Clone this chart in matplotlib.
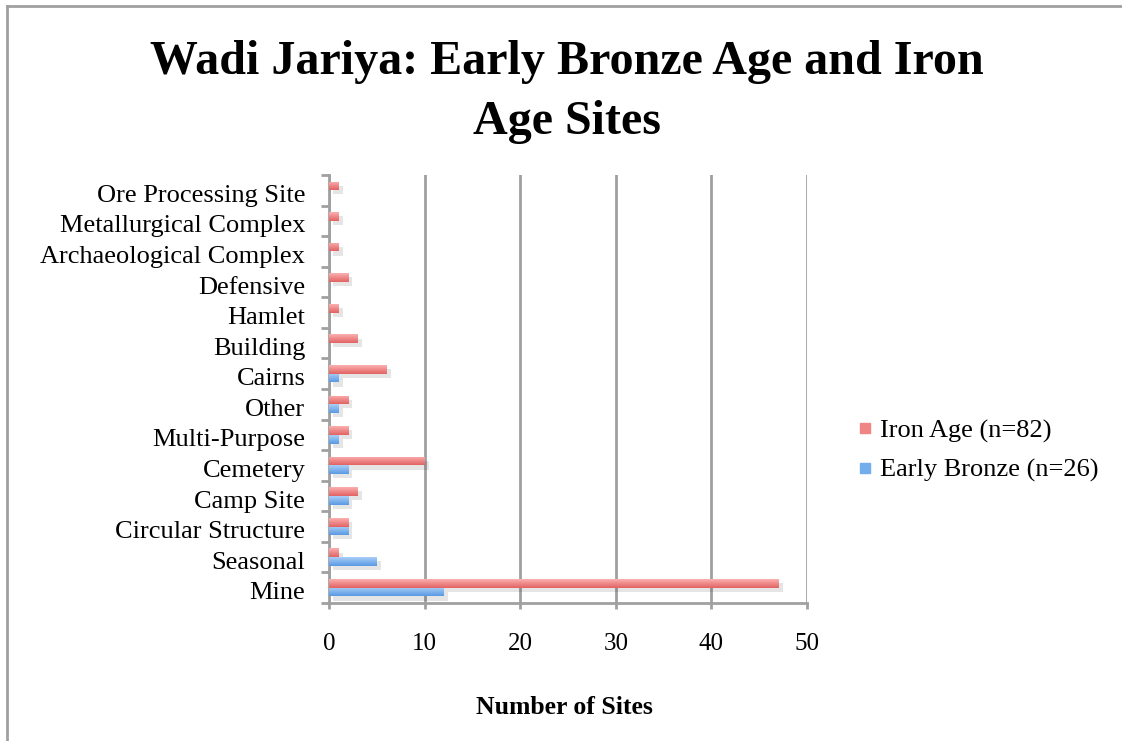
import numpy as np
import matplotlib.pyplot as plt
from matplotlib import patheffects as pe
from matplotlib import transforms
from matplotlib.colors import to_rgb
from matplotlib.lines import Line2D

categories = ['Mine', 'Seasonal', 'Circular Structure', 'Camp Site', 'Cemetery',
              'Multi-Purpose', 'Other', 'Cairns', 'Building', 'Hamlet',
              'Defensive', 'Archaeological Complex', 'Metallurgical Complex',
              'Ore Processing Site']
iron_age = [47, 1, 2, 3, 10, 2, 2, 6, 3, 1, 2, 1, 1, 1]
early_bronze = [12, 5, 2, 2, 2, 1, 1, 1, 0, 0, 0, 0, 0, 0]
x_ticks = [0, 10, 20, 30, 40, 50]

plt.rcParams['font.family'] = ['Liberation Serif', 'DejaVu Serif']

# top / bottom colours of the bar gradients
iron_cols = ('#fbb0b0', '#e26262')
bronze_cols = ('#a9cef7', '#5a99e4')


def gradient(c_top, c_bot, n=32):
    a, b = np.array(to_rgb(c_top)), np.array(to_rgb(c_bot))
    t = np.linspace(0, 1, n)[:, None]
    return (a * (1 - t) + b * t)[:, None, :]


fig = plt.figure(figsize=(11.22, 7.41), dpi=100)
ax = fig.add_axes([0.2932, 0.1862, 0.4261, 0.5776])

y = np.arange(len(categories))
h = 0.285
shadow = [pe.SimplePatchShadow(offset=(3, -3), shadow_rgbFace='#000000', alpha=0.10), pe.Normal()]
b1 = ax.barh(y + h / 2, iron_age, height=h, color=iron_cols[1], label='Iron Age (n=82)', zorder=3)
b2 = ax.barh(y - h / 2, early_bronze, height=h, color=bronze_cols[1], label='Early Bronze (n=26)', zorder=3)
for bars, cols in ((b1, iron_cols), (b2, bronze_cols)):
    for bar in bars:
        w = bar.get_width()
        if w <= 0:
            continue
        bar.set_path_effects(shadow)
        y0 = bar.get_y()
        im = ax.imshow(gradient(*cols), extent=(0, w, y0, y0 + bar.get_height()),
                       origin='upper', aspect='auto', interpolation='bilinear', zorder=4)
        im.set_clip_path(bar)

ax.set_xlim(0, 50)
ax.set_ylim(-0.5, len(categories) - 0.5)
ax.set_xticks(x_ticks)
ax.set_yticks(y)
ax.set_yticklabels(categories)
ax.set_yticks(np.arange(-0.5, len(categories)), minor=True)
ax.tick_params(axis='y', which='major', length=0, pad=17, labelsize=19)
ax.tick_params(axis='y', which='minor', length=6, width=2, color='#a0a0a0', direction='out')
ax.tick_params(axis='x', length=4.5, width=2, color='#a0a0a0', pad=17, labelsize=18)

# nudge category labels down a little
shift = transforms.ScaledTranslation(0, -3 / 100, fig.dpi_scale_trans)
for lab in ax.get_yticklabels():
    lab.set_transform(lab.get_transform() + shift)

ax.grid(axis='x', color='#a0a0a0', linewidth=2, zorder=0)
ax.set_axisbelow(True)
for s in ['top', 'right']:
    ax.spines[s].set_visible(False)
for s in ['left', 'bottom']:
    ax.spines[s].set_color('#a0a0a0')
    ax.spines[s].set_linewidth(2)

fig.text(0.503, 1 - 707 / 741, 'Number of Sites', ha='center', va='center',
         fontsize=18.5, fontweight='bold')

fig.suptitle('Wadi Jariya: Early Bronze Age and Iron\nAge Sites', x=0.505, y=0.946,
             fontsize=34.6, fontweight='bold', linespacing=1.46)

handles = [Line2D([], [], marker='s', linestyle='', markersize=7, color='#f08585'),
           Line2D([], [], marker='s', linestyle='', markersize=7, color='#74adec')]
fig.legend(handles, ['Iron Age (n=82)', 'Early Bronze (n=26)'], loc='center left',
           bbox_to_anchor=(0.743, 0.392), frameon=False, fontsize=19,
           handlelength=0.6, handletextpad=0.25, labelspacing=0.6)

# outer frame (left and top edges only)
fig.add_artist(Line2D([0.0062, 0.0062], [0, 0.992], transform=fig.transFigure, color='#a0a0a0', lw=2))
fig.add_artist(Line2D([0.0062, 1.0], [0.992, 0.992], transform=fig.transFigure, color='#a0a0a0', lw=2))

fig.savefig('out.png', dpi=100)
